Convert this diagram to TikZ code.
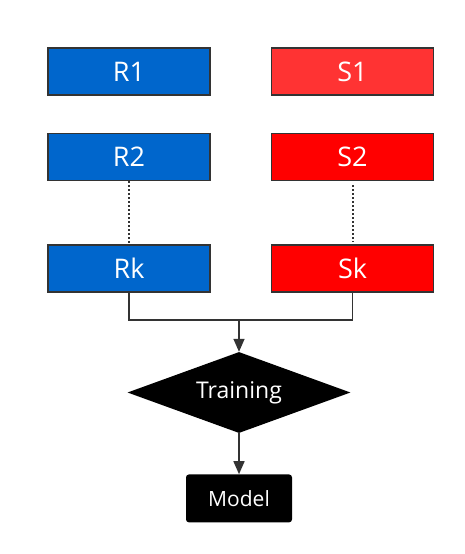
\documentclass[tikz,border=0pt]{standalone}
\usepackage{fontspec}
\setmainfont{Open Sans}
\usetikzlibrary{positioning,arrows.meta,shapes.geometric}
\definecolor{rblue}{HTML}{0066CC}
\definecolor{slight}{HTML}{FF3333}
\definecolor{sred}{HTML}{FF0000}
\definecolor{edge}{HTML}{333333}
\tikzset{
    every node/.style={text=white},
    setbox/.style={draw=edge, line width=1.5pt, minimum width=162pt, minimum height=47pt, inner sep=0pt, font=\fontsize{27}{32}\selectfont},
    rbox/.style={setbox, fill=rblue},
    sbox/.style={setbox, fill=sred},
    trainbox/.style={diamond, fill=black, aspect=2.75, minimum width=223pt, minimum height=81pt, inner sep=0pt, font=\fontsize{23}{27}\selectfont},
    modelbox/.style={fill=black, rounded corners=3pt, minimum width=106pt, minimum height=48pt, inner sep=0pt, font=\fontsize{21}{25}\selectfont},
    arrow/.style={-{Triangle[length=13pt,width=11pt]}, line width=1.5pt, draw=edge},
    link/.style={line width=1.5pt, draw=edge},
    dots/.style={draw=edge, line width=2pt, dash pattern=on 2pt off 2pt},
}
\begin{document}
\begin{tikzpicture}[x=1pt,y=-1pt]
   \useasboundingbox (0,0) rectangle (464,554);
% two columns of sets, R on the left and S on the right
   \node[rbox] (R1) at (129,71.5) {R1};
   \node[setbox, fill=slight, right=60pt of R1] (S1) {S1};
   \node[rbox, below=37pt of R1] (R2) {R2};
   \node[sbox, right=60pt of R2] (S2) {S2};
   \node[rbox, below=63pt of R2] (Rk) {Rk};
   \node[sbox, right=60pt of Rk] (Sk) {Sk};
% training step and resulting model below
   \node[trainbox] (train) at (239,392.5) {Training};
   \node[modelbox, below=41pt of train] (model) {Model};
   \coordinate (join) at (239,320);
   \draw[dots] (R2) -- (Rk);
   \draw[dots] ([yshift=-4pt]S2.south) -- ([yshift=2pt]Sk.north);
   \draw[link] (Rk.south) |- (join) -| (Sk.south);
   \draw[arrow] (join) -- (train.north);
   \draw[arrow] (train.south) -- (model.north);
\end{tikzpicture}
\end{document}
